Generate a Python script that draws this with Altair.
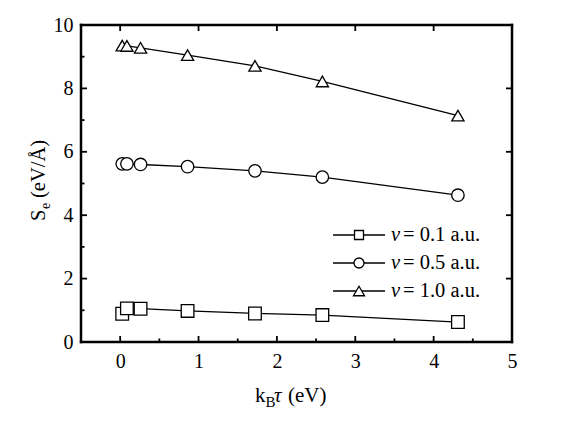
import altair as alt
import pandas as pd

# ---- data ----
kt = [0.026, 0.086, 0.26, 0.86, 1.72, 2.58, 4.31]
s_v01 = [0.89, 1.06, 1.05, 0.98, 0.90, 0.85, 0.63]
s_v05 = [5.62, 5.62, 5.60, 5.53, 5.40, 5.20, 4.63]
s_v10 = [9.35, 9.34, 9.28, 9.05, 8.71, 8.22, 7.14]
series = ["v = 0.1 a.u.", "v = 0.5 a.u.", "v = 1.0 a.u."]
legend_values = ["= 0.1 a.u.", "= 0.5 a.u.", "= 1.0 a.u."]
shapes = ["square", "circle", "triangle-up"]

x_major = [0, 1, 2, 3, 4, 5]
x_minor = [0.5, 1.5, 2.5, 3.5, 4.5]
y_major = [0, 2, 4, 6, 8, 10]
y_minor = [1, 3, 5, 7, 9]

rows = []
for name, vals in zip(series, [s_v01, s_v05, s_v10]):
    for xv, yv in zip(kt, vals):
        rows.append({"kT": xv, "Se": yv, "series": name})
df = pd.DataFrame(rows)

W, H = 431, 317
FONT = "Liberation Serif"
XS = alt.Scale(domain=[-0.5, 5], nice=False, zero=False)
YS = alt.Scale(domain=[0, 10], nice=False, zero=False)

xaxis = alt.Axis(values=x_major, ticks=False, tickSize=0, domain=False, grid=False,
                 title=None, labelFont=FONT, labelFontSize=20, labelPadding=9,
                 labelFlush=False, labelOverlap=False, labelColor="black")
yaxis = alt.Axis(values=y_major, ticks=False, tickSize=0, domain=False, grid=False,
                 title=None, labelFont=FONT, labelFontSize=20, labelPadding=8,
                 labelFlush=False, labelOverlap=False, labelColor="black")

base = alt.Chart(df)
lines = base.mark_line(color="black", strokeWidth=1.3).encode(
    x=alt.X("kT:Q", scale=XS, axis=xaxis, title=None),
    y=alt.Y("Se:Q", scale=YS, axis=yaxis, title=None),
    detail="series:N",
)
points = base.mark_point(filled=True, fill="white", stroke="black",
                         strokeWidth=1.3, opacity=1).encode(
    x=alt.X("kT:Q", scale=XS, axis=xaxis, title=None),
    y=alt.Y("Se:Q", scale=YS, axis=yaxis, title=None),
    shape=alt.Shape("series:N", scale=alt.Scale(domain=series, range=shapes), legend=None),
    size=alt.Size("series:N", scale=alt.Scale(domain=series, range=[160, 150, 220]), legend=None),
)

def xticks(vals, y1, y2):
    return alt.Chart(pd.DataFrame({"kT": vals})).mark_rule(color="black", strokeWidth=1.8).encode(
        x=alt.X("kT:Q", scale=XS, axis=xaxis, title=None), y=alt.value(y1), y2=alt.value(y2))

def yticks(vals, x1, x2):
    return alt.Chart(pd.DataFrame({"Se": vals})).mark_rule(color="black", strokeWidth=1.8).encode(
        y=alt.Y("Se:Q", scale=YS, axis=yaxis, title=None), x=alt.value(x1), x2=alt.value(x2))

ticks = [
    xticks(x_major, H, H - 6),
    xticks(x_minor, H, H - 3.5),
    xticks(x_major, 0, 6),
    yticks(y_major, 0, 6),
    yticks(y_minor, 0, 3.5),
    yticks(y_major, W, W - 6),
]

one = pd.DataFrame({"a": [0]})

def hrule(x1, x2, y, w=2.5):
    return alt.Chart(one).mark_rule(color="black", strokeWidth=w).encode(
        x=alt.value(x1), x2=alt.value(x2), y=alt.value(y))

def vrule(x, y1, y2, w=2.5):
    return alt.Chart(one).mark_rule(color="black", strokeWidth=w).encode(
        x=alt.value(x), y=alt.value(y1), y2=alt.value(y2))

frame = [hrule(-1.2, W + 1.2, 0), hrule(-1.2, W + 1.2, H),
         vrule(0, -1.2, H + 1.2), vrule(W, -1.2, H + 1.2)]

def txt(text, x, y, size=20, style="normal", angle=0):
    return alt.Chart(one).mark_text(text=text, font=FONT, fontSize=size, fontStyle=style,
                                    align="left", baseline="alphabetic", angle=angle,
                                    color="black").encode(x=alt.value(x), y=alt.value(y))

titles = [
    txt("k", 174, 377, size=21),
    txt("B", 184.5, 382, size=15),
    txt("τ", 193, 377, size=21, style="italic"),
    txt("(eV)", 207, 377, size=21),
    txt("S", -36, 196, size=20.5, angle=270),
    txt("e", -31, 184, size=14, angle=270),
    txt("(eV/Å)", -36, 173, size=20.5, angle=270),
]

legend_layers = []
row_y = [210, 238, 266]
leg_sizes = [81, 100, 121]
for i in range(3):
    yy = row_y[i]
    legend_layers.append(hrule(252, 304, yy, w=1.3))
    legend_layers.append(
        alt.Chart(one).mark_point(shape=shapes[i], filled=True, fill="white", stroke="black",
                                  strokeWidth=1.3, opacity=1, size=leg_sizes[i]).encode(
            x=alt.value(278), y=alt.value(yy)))
    legend_layers.append(txt("v", 310, yy + 6, size=20.5, style="italic"))
    legend_layers.append(txt(legend_values[i], 322, yy + 6, size=20.5))

chart = alt.layer(lines, points, *ticks, *frame, *titles, *legend_layers).properties(
    width=W, height=H,
    autosize=alt.AutoSizeParams(type="none"),
    padding={"left": 73, "top": 17, "right": 41, "bottom": 76},
).configure_view(stroke=None).configure(background="white")

chart.save("out.html", embed_options={"renderer": "svg", "actions": False})
